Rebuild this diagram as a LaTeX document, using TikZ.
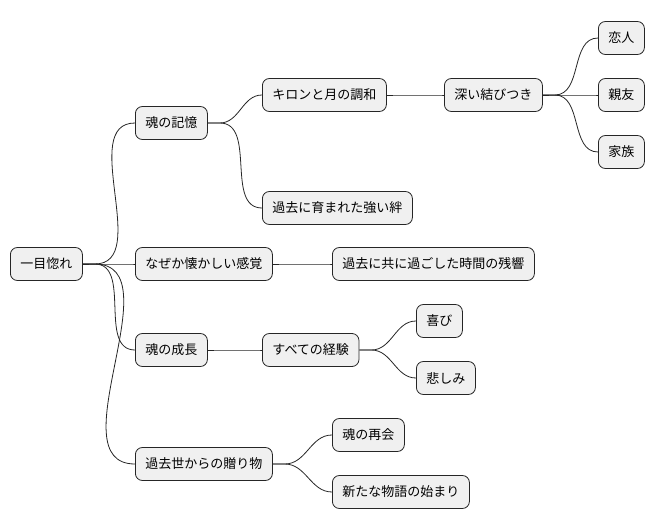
\documentclass[tikz,border=0pt]{standalone}
\usepackage{fontspec}
\setmainfont{Noto Sans CJK JP}
\begin{document}
\begin{tikzpicture}[x=1bp,y=-1bp,
  box/.style={draw=black!85,fill=black!6,rounded corners=7bp,line width=0.8bp,
    minimum height=33bp,inner xsep=10bp,anchor=west,font=\fontsize{13bp}{15bp}\selectfont},
  link/.style={draw=black!85,line width=0.8bp}]
\useasboundingbox (0,0) rectangle (656,527);
\node[box] (r) at (10,264) {一目惚れ};
\node[box] (a) at (135,123) {魂の記憶};
\node[box] (a1) at (262,95) {キロンと月の調和};
\node[box] (a11) at (444,95) {深い結びつき};
\node[box] (l1) at (598,38) {恋人};
\node[box] (l2) at (598,95) {親友};
\node[box] (l3) at (598,152) {家族};
\node[box] (a2) at (262,208) {過去に育まれた強い絆};
\node[box] (b) at (135,264) {なぜか懐かしい感覚};
\node[box] (b1) at (332,264) {過去に共に過ごした時間の残響};
\node[box] (c) at (135,350) {魂の成長};
\node[box] (c1) at (262,350) {すべての経験};
\node[box] (c11) at (416,321) {喜び};
\node[box] (c12) at (416,378) {悲しみ};
\node[box] (d) at (135,464) {過去世からの贈り物};
\node[box] (d1) at (332,435) {魂の再会};
\node[box] (d2) at (332,492) {新たな物語の始まり};
\foreach \p/\c in {r/a,r/b,r/c,r/d,a/a1,a/a2,a1/a11,a11/l1,a11/l2,a11/l3,b/b1,c/c1,c1/c11,c1/c12,d/d1,d/d2}{
  \draw[link] (\p.east) -- ++(12,0) to[out=0,in=180] (\c.west);
}
\end{tikzpicture}
\end{document}
